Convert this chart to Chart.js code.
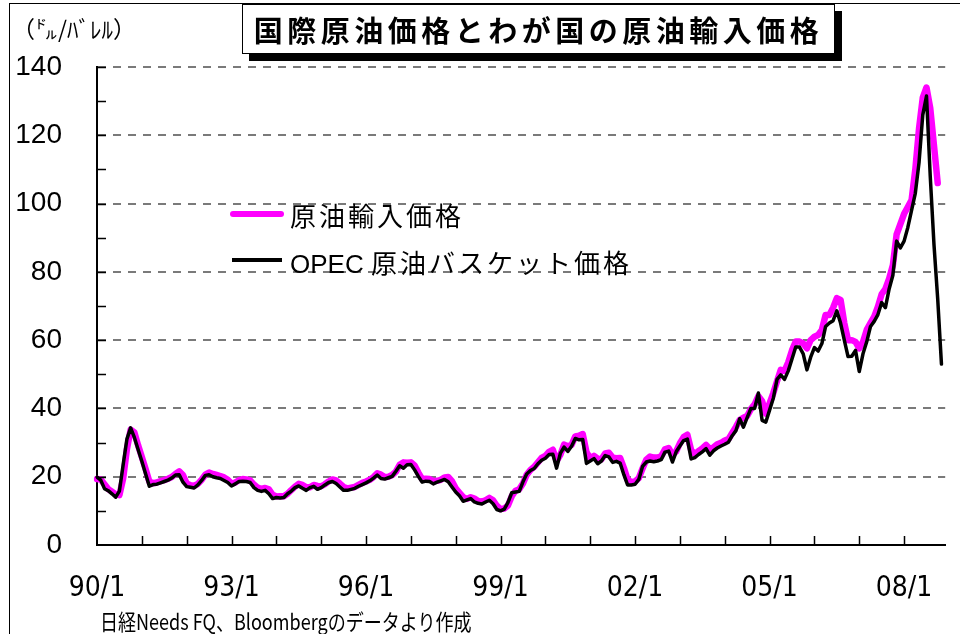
<!DOCTYPE html>
<html>
<head>
<meta charset="utf-8">
<script src="https://cdn.jsdelivr.net/npm/chart.js@4.4.1/dist/chart.umd.min.js"></script>
<style>
    html, body { margin: 0; padding: 0; background: #fff; }
    #wrap { position: relative; width: 960px; height: 634px; overflow: hidden; }
    #chart { position: absolute; left: 0; top: 0; }
    #frame { position: absolute; left: 9px; top: 3px; width: 1000px; height: 700px;
             border-left: 1.5px solid #000; border-top: 1.5px solid #000; }
    #title { position: absolute; left: 242px; top: 4px; width: 591px; height: 48px;
             border: 1.5px solid #000; background: #fff; box-shadow: 7px 7px 0 #000;
             font: bold 29px 'Noto Sans CJK JP'; letter-spacing: 4.5px; line-height: 48px;
             text-align: center; color: #000; }
    #unit { position: absolute; left: 12px; top: 11px; font: 23px 'Noto Sans CJK JP'; color: #000; }
    .lg-line { position: absolute; }
    .lg-text { position: absolute; left: 290px; font: 26px 'Noto Sans CJK JP'; letter-spacing: 3px;
               color: #000; white-space: nowrap; }
    .lg-text .latin { font-family: 'Liberation Sans', Arial; letter-spacing: 0; }
    #source { position: absolute; left: 100px; top: 604px; font: 22px 'Noto Sans CJK JP'; color: #000;
              white-space: nowrap; transform: scaleX(0.82); transform-origin: left top; }
</style>
</head>
<body>
<div id="wrap">
    <div id="frame"></div>
    <canvas id="chart" width="960" height="634"></canvas>
    <div id="title">国際原油価格とわが国の原油輸入価格</div>
    <div id="unit">（㌦/ﾊﾞﾚﾙ）</div>
    <div class="lg-line" style="left:230px;top:211px;width:54px;height:6px;background:#ff00ff;border-radius:3px;"></div>
    <div class="lg-text" style="top:196px;">原油輸入価格</div>
    <div class="lg-line" style="left:232px;top:258px;width:50px;height:3.5px;background:#000;"></div>
    <div class="lg-text" style="top:243px;"><span class="latin">OPEC </span>原油バスケット価格</div>
    <div id="source">日経Needs FQ、Bloombergのデータより作成</div>
</div>
<script>
// 月次データ 1990/1 - 2008/12 (ドル/バレル)
var years = [1990, 1991, 1992, 1993, 1994, 1995, 1996, 1997, 1998, 1999,
             2000, 2001, 2002, 2003, 2004, 2005, 2006, 2007, 2008];
var xTickLabels = ['90/1', '93/1', '96/1', '99/1', '02/1', '05/1', '08/1'];
var yTickLabels = [0, 20, 40, 60, 80, 100, 120, 140];

// OPEC 原油バスケット価格
var opecBasket = [
    19.9, 19.0, 16.5, 15.9, 15.0, 14.0, 15.8, 23.5, 31.0, 34.3, 31.5, 28.0,
    24.5, 20.9, 17.2, 17.7, 17.8, 18.2, 18.6, 19.0, 19.6, 20.5, 20.6, 18.4,
    17.1, 16.9, 16.7, 17.6, 18.9, 20.4, 20.6, 20.0, 19.7, 19.5, 18.9, 18.3,
    17.3, 17.9, 18.6, 18.7, 18.6, 18.3, 16.8, 16.0, 15.7, 16.0, 15.0, 13.6,
    13.9, 13.8, 13.9, 15.0, 15.8, 16.8, 17.3, 16.6, 16.0, 16.8, 17.2, 16.3,
    16.8, 17.6, 18.3, 18.6, 18.0, 17.0, 16.0, 16.0, 16.3, 16.6, 17.2, 17.7,
    18.2, 18.8, 19.6, 20.5, 19.5, 19.3, 19.7, 20.1, 21.6, 23.2, 22.5, 23.5,
    23.6, 22.0, 20.1, 18.4, 18.7, 18.6, 17.9, 18.4, 18.8, 19.2, 18.5, 17.0,
    15.5, 14.4, 12.8, 13.2, 13.6, 12.6, 12.2, 12.0, 12.6, 13.1, 12.1, 10.4,
    10.0, 10.5, 12.5, 15.3, 15.5, 15.7, 18.5, 20.8, 21.8, 22.4, 23.8, 24.8,
    25.4, 26.5, 26.6, 22.5, 26.8, 28.7, 27.4, 28.9, 31.2, 30.8, 30.9, 23.9,
    24.6, 25.3, 23.8, 24.6, 26.2, 25.8, 24.2, 24.5, 24.0, 20.6, 17.6, 17.6,
    17.8, 19.2, 23.0, 24.3, 24.6, 24.4, 24.6, 25.0, 27.2, 27.5, 24.3, 27.3,
    29.0, 30.6, 31.0, 25.2, 25.6, 26.5, 27.3, 28.2, 26.3, 27.6, 28.4, 29.0,
    29.5, 30.1, 32.0, 33.5, 37.0, 34.5, 37.3, 40.0, 40.0, 44.5, 36.5, 36.0,
    39.5, 43.0, 48.5, 49.8, 48.5, 51.0, 54.5, 58.0, 58.0, 56.0, 51.3, 55.0,
    57.8, 56.8, 59.0, 64.0, 65.0, 65.7, 68.6, 65.0, 60.0, 55.2, 55.3, 57.0,
    50.8, 56.0, 59.5, 64.0, 65.5, 67.5, 71.0, 69.5, 75.0, 79.0, 89.0, 87.0,
    89.0, 93.0, 98.0, 103.0, 112.0, 126.0, 131.5, 108.0, 88.0, 72.0, 53.0, null
];

// 原油輸入価格
var crudeImport = [
    19.3, 19.2, 17.8, 16.4, 15.6, 14.8, 14.6, 19.5, 28.0, 33.8, 33.0, 29.2,
    25.8, 22.3, 18.6, 18.1, 18.3, 18.7, 19.0, 19.4, 19.9, 20.8, 21.6, 20.5,
    18.0, 17.5, 17.3, 17.9, 19.1, 20.6, 21.2, 20.8, 20.5, 20.2, 19.8, 19.1,
    18.0, 18.3, 19.0, 19.3, 19.2, 18.9, 17.7, 16.8, 16.4, 16.7, 16.3, 14.7,
    14.2, 14.3, 14.3, 15.0, 16.1, 17.1, 17.9, 17.6, 16.9, 16.9, 17.6, 17.3,
    17.2, 17.8, 18.6, 19.2, 18.9, 18.0, 17.0, 16.6, 16.8, 17.0, 17.6, 18.2,
    18.6, 19.1, 19.9, 21.0, 20.6, 19.9, 20.0, 20.5, 21.5, 23.5, 24.2, 24.1,
    24.2, 23.3, 21.2, 19.3, 19.4, 19.3, 18.7, 18.8, 19.1, 19.8, 19.9, 18.7,
    16.6, 15.3, 14.0, 13.5, 14.0, 13.6, 12.9, 12.7, 13.1, 13.8, 13.1, 11.5,
    10.5, 10.7, 11.6, 14.3, 15.9, 16.3, 18.0, 20.6, 22.0, 22.9, 24.2, 25.5,
    26.1, 27.3, 27.9, 24.6, 26.4, 29.4, 28.9, 29.3, 31.8, 32.0, 32.5, 27.2,
    25.4, 26.1, 25.3, 25.1, 26.8, 27.0, 25.6, 25.4, 25.5, 22.6, 19.1, 18.4,
    18.6, 19.6, 22.4, 25.0, 25.9, 25.6, 25.6, 26.0, 28.0, 28.4, 26.5, 27.4,
    29.8, 31.6, 32.3, 27.8, 26.6, 27.5, 28.3, 29.3, 28.1, 28.6, 29.5, 29.9,
    30.6, 31.0, 32.8, 34.6, 36.6, 37.3, 37.8, 39.8, 41.2, 43.6, 42.1, 38.5,
    41.5, 44.5, 48.0, 51.3, 51.0, 53.5, 57.0, 59.6, 59.6, 59.0, 57.6, 60.0,
    61.0, 61.5, 63.0, 67.4, 67.4, 69.5, 72.3, 71.8, 65.0, 60.0, 60.0, 59.5,
    57.6, 59.5, 63.0, 65.0, 66.9, 69.8, 73.5, 75.0, 78.0, 82.0, 91.0, 94.0,
    97.0, 99.0, 101.0, 110.0, 122.0, 131.0, 134.0, 128.0, 117.0, 106.0, null, null
];

// カテゴリ (年/月)
var months = [];
years.forEach(function (y) {
    for (var m = 1; m <= 12; m++) {
        months.push(String(y).slice(2) + '/' + m);
    }
});

// 内向きの目盛り線
var innerTicks = {
    id: 'innerTicks',
    afterDraw: function (chart) {
        var ctx = chart.ctx;
        var xs = chart.scales.x, ys = chart.scales.y;
        var area = chart.chartArea;
        ctx.save();
        ctx.strokeStyle = '#000';
        ctx.lineWidth = 1.5;
        ctx.beginPath();
        for (var v = 10; v <= 140; v += 10) {
            var py = Math.round(ys.getPixelForValue(v)) + 0.5;
            ctx.moveTo(area.left, py);
            ctx.lineTo(area.left + 9, py);
        }
        for (var i = 12; i < months.length; i += 12) {
            var px = Math.round(xs.getPixelForValue(i)) + 0.5;
            ctx.moveTo(px, area.bottom);
            ctx.lineTo(px, area.bottom - 9);
        }
        ctx.stroke();
        ctx.restore();
    }
};

new Chart(document.getElementById('chart').getContext('2d'), {
    type: 'line',
    data: {
        labels: months,
        datasets: [{
            label: 'OPEC 原油バスケット価格',
            data: opecBasket,
            borderColor: '#000000',
            borderWidth: 3.5,
            pointRadius: 0,
            tension: 0,
            borderJoinStyle: 'round',
            borderCapStyle: 'round'
        }, {
            label: '原油輸入価格',
            data: crudeImport,
            borderColor: '#ff00ff',
            borderWidth: 6.5,
            pointRadius: 0,
            tension: 0,
            borderJoinStyle: 'round',
            borderCapStyle: 'round'
        }]
    },
    options: {
        responsive: false,
        animation: false,
        layout: { padding: { top: 67, right: 13, left: 0, bottom: 0 } },
        plugins: { legend: { display: false }, tooltip: { enabled: false } },
        scales: {
            x: {
                type: 'category',
                offset: false,
                grid: { display: false, drawTicks: false },
                border: { color: '#000', width: 2 },
                ticks: {
                    autoSkip: false,
                    maxRotation: 0,
                    padding: 27,
                    color: '#000',
                    font: { family: "'Liberation Sans Narrow', 'DejaVu Sans Condensed', 'Liberation Sans'", size: 28 },
                    callback: function (val, idx) {
                        var lab = months[idx];
                        return xTickLabels.indexOf(lab) >= 0 ? lab : null;
                    }
                },
                afterFit: function (scale) { scale.height = 89; }
            },
            y: {
                min: 0,
                max: 140,
                ticks: {
                    stepSize: 10,
                    padding: 35,
                    color: '#000',
                    font: { family: "'Liberation Sans', Arial", size: 28 },
                    callback: function (val) {
                        return yTickLabels.indexOf(val) >= 0 ? String(val) : '';
                    }
                },
                grid: {
                    drawTicks: false,
                    lineWidth: 2,
                    color: function (ctx) {
                        return ctx.tick && ctx.tick.value === 0 ? 'rgba(0,0,0,0)' : '#7a7a7a';
                    }
                },
                border: { color: '#000', width: 2, dash: [8, 7] },
                afterFit: function (scale) { scale.width = 97; }
            }
        }
    },
    plugins: [innerTicks]
});
</script>
</body>
</html>
